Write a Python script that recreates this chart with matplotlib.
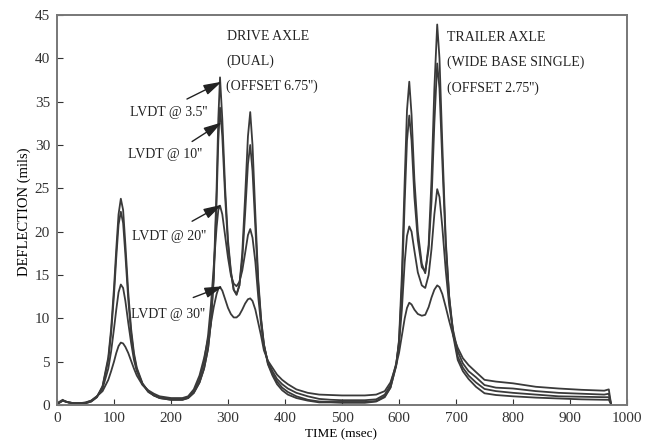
import matplotlib.pyplot as plt

plt.rcParams['font.family'] = 'Liberation Serif'

# time axis (msec) and deflection (mils)
time_ms = [0, 5, 10, 15, 20, 30, 40, 50, 60, 70, 80, 90, 95, 100, 104, 108, 112, 116, 120, 125,
           130, 135, 140, 150, 160, 170, 180, 190, 200, 210, 220, 230, 240, 250, 258, 265, 270,
           275, 280, 283, 286, 290, 295, 300, 305, 310, 315, 320, 325, 330, 335, 339, 343, 348,
           353, 358, 363, 370, 378, 386, 395, 405, 420, 440, 460, 480, 500, 520, 540, 560, 575,
           585, 595, 600, 605, 610, 614, 618, 622, 627, 633, 640, 646, 652, 657, 662, 667, 671,
           676, 682, 688, 695, 703, 712, 722, 735, 750, 770, 800, 840, 880, 920, 960, 968, 972]

lvdt_3_5 = [0.2, 0.4, 0.6, 0.4, 0.3, 0.2, 0.2, 0.2, 0.4, 0.9, 2.2, 5.5, 8.8, 13.5, 18.0, 22.0, 23.8, 22.5, 18.5, 13.0,
            8.8, 6.0, 4.3, 2.5, 1.6, 1.1, 0.8, 0.7, 0.6, 0.6, 0.6, 0.8, 1.4, 2.6, 4.2, 6.5, 9.5,
            15.0, 25.0, 33.0, 37.8, 33.0, 25.0, 19.0, 15.5, 13.3, 12.7, 13.8, 17.5, 24.0, 31.0, 33.8, 30.0, 22.0,
            14.5, 10.0, 7.0, 4.7, 3.4, 2.4, 1.7, 1.2, 0.8, 0.5, 0.3, 0.3, 0.25, 0.25, 0.25, 0.4, 0.9,
            2.0, 4.5, 7.5, 15.0, 26.0, 34.0, 37.3, 33.5, 26.0, 20.0, 16.3, 15.2, 18.5, 26.0, 36.5, 43.9, 40.0,
            30.0, 19.0, 12.5, 8.0, 5.2, 3.9, 3.0, 2.1, 1.35, 1.15, 1.0, 0.85, 0.75, 0.65, 0.6, 0.6, 0.1]

lvdt_10 = [0.1, 0.3, 0.5, 0.4, 0.3, 0.2, 0.2, 0.2, 0.4, 0.9, 2.1, 5.2, 8.3, 12.7, 17.0, 20.8, 22.3, 21.0, 17.3, 12.2,
           8.3, 5.7, 4.1, 2.4, 1.5, 1.1, 0.8, 0.7, 0.6, 0.6, 0.6, 0.8, 1.4, 2.6, 4.2, 6.5, 9.5,
           14.5, 23.5, 30.5, 34.3, 31.0, 24.0, 18.5, 15.3, 13.3, 12.8, 13.8, 16.8, 22.0, 27.8, 30.0, 27.0, 20.5,
           14.0, 9.8, 7.0, 4.8, 3.6, 2.7, 2.0, 1.5, 1.0, 0.6, 0.4, 0.35, 0.35, 0.35, 0.35, 0.45, 1.0,
           2.0, 4.6, 7.3, 13.5, 23.5, 30.5, 33.4, 30.5, 24.0, 19.0, 15.9, 15.4, 18.0, 23.5, 32.5, 39.4, 36.5,
           28.0, 18.5, 12.5, 8.4, 5.6, 4.3, 3.4, 2.6, 1.85, 1.6, 1.4, 1.2, 1.0, 0.95, 0.9, 0.9, 0.1]

lvdt_20 = [0.1, 0.3, 0.5, 0.4, 0.3, 0.2, 0.2, 0.25, 0.5, 1.0, 1.9, 4.2, 6.2, 8.8, 11.0, 13.0, 13.9, 13.5, 12.0, 9.5,
           7.2, 5.2, 3.9, 2.4, 1.6, 1.1, 0.9, 0.8, 0.7, 0.7, 0.7, 0.9, 1.6, 3.0, 5.0, 8.0, 11.5,
           16.0, 20.5, 22.5, 23.0, 22.0, 19.5, 17.0, 15.0, 14.0, 13.7, 14.2, 15.5, 17.5, 19.6, 20.3, 19.3, 16.5,
           12.5, 9.3, 6.8, 5.0, 3.9, 3.0, 2.4, 1.9, 1.4, 1.0, 0.7, 0.6, 0.55, 0.55, 0.55, 0.65, 1.2,
           2.3, 4.8, 7.0, 11.0, 16.5, 19.5, 20.6, 20.0, 17.8, 15.3, 13.8, 13.5, 15.0, 18.0, 22.0, 24.9, 24.0,
           20.5, 15.5, 11.5, 8.6, 6.2, 4.8, 3.9, 3.2, 2.3, 2.0, 1.9, 1.6, 1.4, 1.3, 1.2, 1.3, 0.1]

lvdt_30 = [0.1, 0.3, 0.5, 0.4, 0.3, 0.2, 0.2, 0.3, 0.5, 1.0, 1.6, 2.9, 3.9, 5.0, 6.0, 6.8, 7.2, 7.1, 6.7, 6.0,
           5.1, 4.2, 3.4, 2.3, 1.7, 1.3, 1.0, 0.9, 0.8, 0.8, 0.8, 1.0, 1.8, 3.4, 5.4, 7.6, 9.4,
           11.3, 12.8, 13.4, 13.6, 13.2, 12.2, 11.2, 10.5, 10.1, 10.1, 10.4, 11.0, 11.7, 12.2, 12.3, 12.0, 11.0,
           9.5, 8.0, 6.3, 5.1, 4.3, 3.5, 2.9, 2.4, 1.8, 1.4, 1.2, 1.15, 1.1, 1.1, 1.1, 1.2, 1.6,
           2.6, 4.6, 6.0, 8.0, 10.0, 11.2, 11.8, 11.6, 11.0, 10.5, 10.3, 10.4, 11.3, 12.4, 13.3, 13.8, 13.6,
           12.8, 11.3, 9.7, 8.0, 6.6, 5.4, 4.6, 3.8, 2.9, 2.7, 2.5, 2.1, 1.9, 1.75, 1.65, 1.8, 0.1]

series = [lvdt_3_5, lvdt_10, lvdt_20, lvdt_30]

labels = ["LVDT @ 3.5''", "LVDT @ 10''", "LVDT @ 20''", "LVDT @ 30''"]
label_xy = [(196, 33.8), (190, 28.9), (197, 19.4), (195, 10.4)]
arrow_tail = [(228, 35.3), (237, 30.4), (237, 21.2), (239, 12.4)]
arrow_head = [(289, 37.3), (289, 32.6), (289, 23.1), (291, 13.7)]

fig = plt.figure(figsize=(6.52, 4.47), dpi=100)
ax = fig.add_axes([0.0874, 0.094, 0.8743, 0.8725])

for vals in series:
    ax.plot(time_ms, vals, color='#3a3a3a', lw=1.3)

for lab, pos in zip(labels, label_xy):
    ax.text(pos[0], pos[1], lab, ha='center', va='center', fontsize=10, color='#222222')
for tail, head in zip(arrow_tail, arrow_head):
    ax.annotate('', xy=head, xytext=tail,
                arrowprops=dict(arrowstyle='-|>,head_length=1.1,head_width=0.32',
                                color='#222222', lw=1, shrinkA=0, shrinkB=0))

ax.text(298, 42.5, 'DRIVE AXLE', fontsize=10, va='center', color='#222222')
ax.text(298, 39.7, '(DUAL)', fontsize=10, va='center', color='#222222')
ax.text(297, 36.8, "(OFFSET 6.75'')", fontsize=10, va='center', color='#222222')
ax.text(685, 42.4, 'TRAILER AXLE', fontsize=10, va='center', color='#222222')
ax.text(685, 39.6, '(WIDE BASE SINGLE)', fontsize=10, va='center', color='#222222')
ax.text(685, 36.6, "(OFFSET 2.75'')", fontsize=10, va='center', color='#222222')

ax.set_xlim(0, 1000)
ax.set_ylim(0, 45)
ax.set_xticks(range(0, 1001, 100))
ax.set_yticks(range(0, 46, 5))
ax.tick_params(direction='in', length=4, labelsize=11, colors='#333333', pad=5)
for sp in ax.spines.values():
    sp.set_color('#777777')
    sp.set_linewidth(1.4)

ax.set_xlabel('TIME (msec)', fontsize=9.5)
ax.set_ylabel('DEFLECTION (mils)', fontsize=10.5)
ax.xaxis.set_label_coords(0.498, -0.06)
ax.yaxis.set_label_coords(-0.045, 0.495)

fig.savefig('out.png', dpi=100)
